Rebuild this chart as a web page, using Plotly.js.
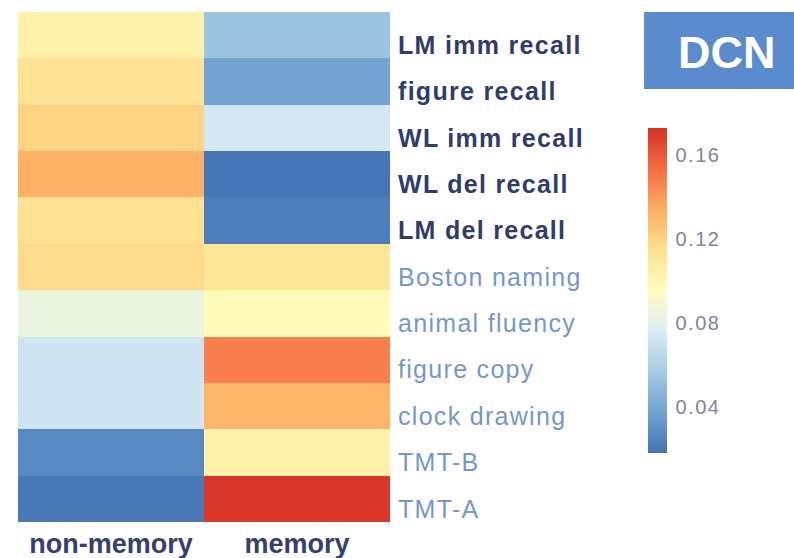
<!DOCTYPE html>
<html>
<head>
<meta charset="utf-8">
<script src="https://cdn.plot.ly/plotly-3.0.1.min.js"></script>
<style>
html,body{margin:0;padding:0;background:#fff;}
#chart{width:794px;height:558px;}
#chart .yaxislayer-above .ytick text{letter-spacing:1.3px;}
#chart .colorbar text{letter-spacing:1.5px;}
</style>
</head>
<body>
<div id="chart"></div>
<script>
// Rows, top to bottom
const tests = ["LM imm recall","figure recall","WL imm recall","WL del recall","LM del recall",
               "Boston naming","animal fluency","figure copy","clock drawing","TMT-B","TMT-A"];
const memoryTests = ["LM imm recall","figure recall","WL imm recall","WL del recall","LM del recall"];
const domains = ["non-memory","memory"];
const nonMemoryVals = [0.104,0.113,0.120,0.133,0.114,0.117,0.084,0.071,0.071,0.027,0.020];
const memoryVals    = [0.053,0.038,0.073,0.019,0.022,0.111,0.098,0.148,0.131,0.104,0.171];
const cbTicks = [0.04,0.08,0.12,0.16];
const panelLabel = "DCN";

const z = tests.map((t,i)=>[nonMemoryVals[i], memoryVals[i]]);
const tickText = tests.map(t => memoryTests.includes(t)
  ? '<b><span style="color:#2f3c6c">'+t+'</span></b>'
  : '<span style="color:#7598c8">'+t+'</span>');

const colorscale = [
  [0,'#4474b4'],[0.125,'#70a2d2'],[0.25,'#a6cce5'],[0.375,'#dcedf5'],[0.5,'#ffffbf'],
  [0.625,'#fee090'],[0.75,'#fdae61'],[0.875,'#f46d43'],[1,'#d73027']
];

const trace = {
  type:'heatmap', x:domains, y:tests, z:z,
  zmin:0.018, zmax:0.173, colorscale:colorscale,
  xgap:0, ygap:0,
  colorbar:{
    x:1.694, xanchor:'left', xref:'paper',
    y:0.454, yanchor:'middle',
    len:325, lenmode:'pixels', thickness:19, thicknessmode:'pixels',
    outlinewidth:0, ticks:'outside', ticklen:5, tickcolor:'rgba(0,0,0,0)',
    tickvals:cbTicks, ticktext:cbTicks.map(v=>v.toFixed(2)),
    tickfont:{family:'Liberation Sans, Arial, sans-serif', size:20, color:'#7f84a0'},
    xpad:0, ypad:0
  }
};

const layout = {
  width:794, height:558,
  margin:{l:18, r:404, t:12, b:36, pad:0},
  paper_bgcolor:'#ffffff', plot_bgcolor:'#ffffff',
  xaxis:{type:'category', showgrid:false, zeroline:false, showline:false, ticks:'',
         tickfont:{family:'Liberation Sans, Arial, sans-serif', size:27, color:'#34416f', weight:'bold'},
         ticklabelstandoff:3},
  yaxis:{type:'category', side:'right', autorange:'reversed', showgrid:false, zeroline:false,
         showline:false, ticks:'', tickvals:tests, ticktext:tickText,
         tickfont:{family:'Liberation Sans, Arial, sans-serif', size:25},
         ticklabelstandoff:7, ticklabelshift:-10},
  shapes:[{type:'rect', xref:'paper', yref:'paper', x0:1.683, x1:2.1, y0:0.849, y1:1.0,
           fillcolor:'#5a8bcd', line:{width:0}, layer:'below'}],
  annotations:[{text:'<b>'+panelLabel+'</b>', xref:'paper', yref:'paper', x:1.907, y:0.92,
                xanchor:'center', yanchor:'middle', showarrow:false,
                font:{family:'Liberation Sans, Arial, sans-serif', size:45, color:'#ffffff'}}]
};

Plotly.newPlot('chart',[trace],layout,{displayModeBar:false, staticPlot:true});
</script>
</body>
</html>
